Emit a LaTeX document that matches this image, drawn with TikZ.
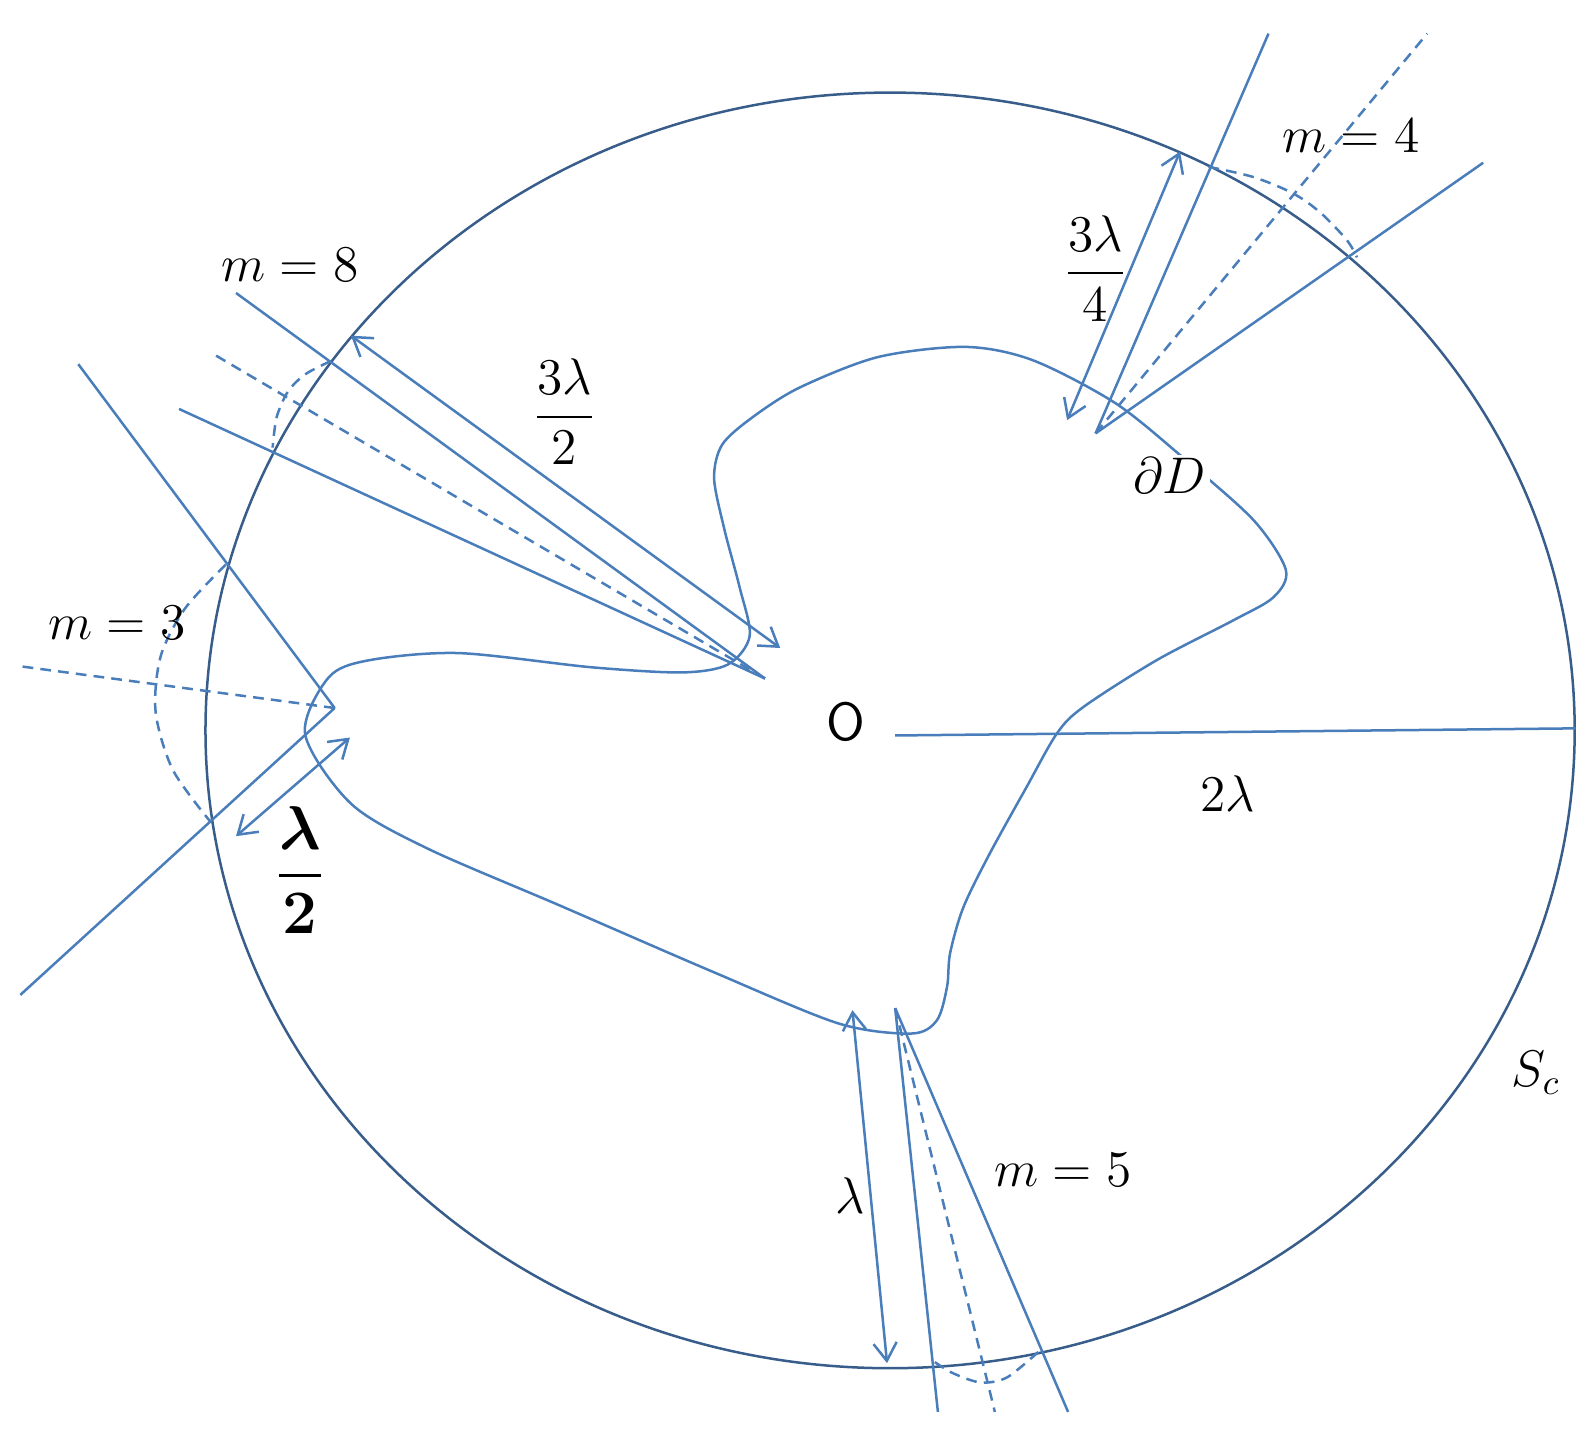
\documentclass[tikz,border=0pt]{standalone}
\usepackage{amsmath}
\usepackage{tikz}
\usetikzlibrary{arrows.meta}

\definecolor{azul}{RGB}{74,126,187}
\definecolor{azulosc}{RGB}{56,93,138}

\begin{document}
\begin{tikzpicture}[x=0.01cm,y=-0.01cm,
	rayo/.style={azul,line width=0.7pt,line join=round},
	guia/.style={rayo,dash pattern=on 3pt off 2pt},
	medida/.style={rayo,{Straight Barb[length=5pt,width=6.5pt]}-{Straight Barb[length=5pt,width=6.5pt]}},
	etiq/.style={font=\fontsize{14}{17}\selectfont}]
		\useasboundingbox (0,0) rectangle (1566,1408);

		%Circulo
		\draw[azulosc,line width=0.7pt] (875,718) ellipse [x radius=673, y radius=627];
		\coordinate (centro) at (880,723);
		\coordinate (borde) at (1549,716);
		\draw[rayo] (centro)--(borde);

		%Frontera
		\draw[rayo] plot[smooth cycle] coordinates {
			(323,666) (363,649) (451,642) (582,656) (671,661) (716,653) (737,625)
			(727,577) (712,520) (702,470) (710,437) (740,410) (786,381) (863,351)
			(949,341) (1015,354) (1096,396) (1162,449) (1232,511) (1264,560)
			(1252,587) (1212,610) (1137,649) (1065,695) (1039,721) (1009,774)
			(973,839) (947,892) (934,937) (931,970) (921,1003) (896,1016)
			(824,1006) (700,955) (550,890) (420,834) (345,790) (300,722)};

		%Rayos m=8
		\coordinate (apice8) at (752,667);
		\coordinate (fin8a) at (232,288);
		\coordinate (fin8b) at (176,402);
		\coordinate (fin8c) at (208,347);
		\coordinate (med8a) at (345,330);
		\coordinate (med8b) at (767,637);
		\draw[rayo] (apice8)--(fin8a);
		\draw[rayo] (apice8)--(fin8b);
		\draw[guia] (apice8)--(fin8c);
		\draw[guia] plot[smooth] coordinates {(325,355) (300,368) (283,385) (272,410) (268,440)};
		\draw[medida] (med8a)--(med8b);

		%Rayos m=3
		\coordinate (apice3) at (329,696);
		\coordinate (fin3a) at (77,358);
		\coordinate (fin3b) at (20,978);
		\coordinate (fin3c) at (20,655);
		\coordinate (med3a) at (232,822);
		\coordinate (med3b) at (344,725);
		\draw[rayo] (apice3)--(fin3a);
		\draw[rayo] (apice3)--(fin3b);
		\draw[guia] (apice3)--(fin3c);
		\draw[guia] plot[smooth] coordinates {(222,555) (182,598) (158,645) (153,700) (170,757) (207,808)};
		\draw[medida] (med3a)--(med3b);

		%Rayos m=4
		\coordinate (apice4) at (1077,426);
		\coordinate (fin4a) at (1247,33);
		\coordinate (fin4b) at (1458,160);
		\coordinate (fin4c) at (1403,33);
		\coordinate (med4a) at (1160,149);
		\coordinate (med4b) at (1049,413);
		\draw[rayo] (apice4)--(fin4a);
		\draw[rayo] (apice4)--(fin4b);
		\draw[guia] (apice4)--(fin4c);
		\draw[guia] plot[smooth] coordinates {(1188,164) (1232,174) (1271,190) (1298,209) (1324,236) (1334,253)};
		\draw[medida] (med4a)--(med4b);

		%Rayos m=5
		\coordinate (apice5) at (880,991);
		\coordinate (fin5a) at (922,1388);
		\coordinate (fin5b) at (1050,1388);
		\coordinate (fin5c) at (978,1388);
		\coordinate (med5a) at (838,993);
		\coordinate (med5b) at (872,1340);
		\draw[rayo] (apice5)--(fin5a);
		\draw[rayo] (apice5)--(fin5b);
		\draw[guia] (apice5)--(fin5c);
		\draw[guia] plot[smooth] coordinates {(919,1339) (937,1350) (964,1359) (990,1354) (1023,1327)};
		\draw[medida] (med5a)--(med5b);

		%Etiquetas
		\node[font=\fontsize{15}{17}\selectfont\sffamily] (origen) at (832,710) {O};
		\node[etiq] (radio) at (1207,780) {$2\lambda$};
		\node[etiq] (esfera) at (1510,1055) {$S_c$};
		\node[etiq,fill=white,inner sep=1pt] (frontera) at (1150,468) {$\partial D$};
		\node[etiq] (m8) at (285,260) {$m=8$};
		\node[etiq] (m3) at (115,612) {$m=3$};
		\node[etiq] (m4) at (1328,134) {$m=4$};
		\node[etiq] (m5) at (1045,1150) {$m=5$};
		\node[etiq] (long8) at (555,405) {$\dfrac{3\lambda}{2}$};
		\node[etiq] (long4) at (1077,264) {$\dfrac{3\lambda}{4}$};
		\node[font=\fontsize{17}{20}\selectfont] (long3) at (295,855) {$\dfrac{\boldsymbol{\lambda}}{\mathbf{2}}$};
		\node[etiq] (long5) at (836,1175) {$\lambda$};
\end{tikzpicture}
\end{document}
